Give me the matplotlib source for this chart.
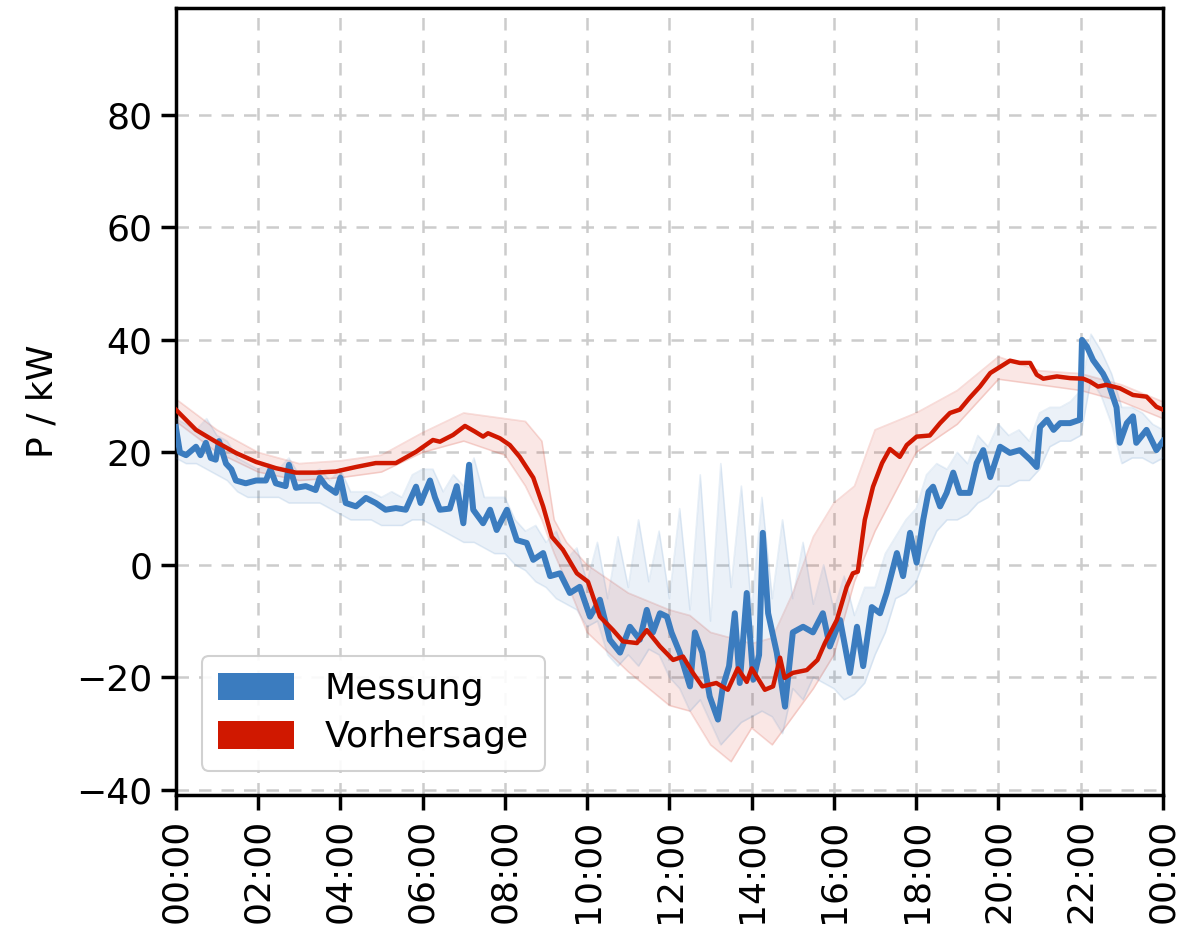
import matplotlib
matplotlib.use('Agg')
import matplotlib.pyplot as plt
from matplotlib.patches import Patch
from matplotlib.ticker import FixedLocator, FuncFormatter

# Messung (Mittelwert), Stunden / kW
mess_h = [0.00, 0.10, 0.25, 0.49, 0.60, 0.73, 0.85, 0.97, 1.05, 1.22, 1.35, 1.46,
          1.70, 1.95, 2.19, 2.30, 2.43, 2.67, 2.75, 2.92, 3.16, 3.40, 3.50, 3.65,
          3.89, 4.00, 4.13, 4.38, 4.62, 4.86, 5.10, 5.35, 5.59, 5.84, 5.95, 6.18,
          6.30, 6.42, 6.66, 6.83, 6.99, 7.13, 7.23, 7.47, 7.64, 7.80, 8.05, 8.29,
          8.53, 8.69, 8.93, 9.10, 9.34, 9.58, 9.82, 10.07, 10.31, 10.55, 10.80, 11.04,
          11.28, 11.45, 11.60, 11.77, 11.94, 12.05, 12.25, 12.50, 12.62, 12.80, 12.98, 13.18,
          13.30, 13.45, 13.59, 13.71, 13.88, 14.04, 14.18, 14.27, 14.40, 14.61, 14.81, 15.00,
          15.25, 15.49, 15.73, 15.90, 16.15, 16.39, 16.56, 16.71, 16.92, 17.12, 17.28, 17.53,
          17.68, 17.85, 18.01, 18.17, 18.30, 18.41, 18.58, 18.74, 18.90, 19.06, 19.30, 19.47,
          19.63, 19.80, 20.04, 20.28, 20.52, 20.77, 20.93, 21.01, 21.18, 21.34, 21.50, 21.74,
          21.98, 22.03, 22.15, 22.30, 22.54, 22.70, 22.87, 22.95, 23.12, 23.27, 23.35, 23.60,
          23.84, 24.00]
mess_kw = [24.5, 20, 19.5, 21, 19.5, 21.7, 19, 18.7, 22, 18, 17, 15,
           14.5, 15, 15, 17, 14.5, 14, 17.8, 13.7, 14, 13.3, 15.5, 14,
           12.8, 15.5, 11, 10.4, 11.9, 11, 9.8, 10.1, 9.8, 13.9, 11, 15,
           12, 9.8, 10, 14, 7.4, 17.8, 9.8, 7.4, 9.8, 6.2, 9.8, 4.4,
           3.9, 0.9, 2.1, -2, -1.5, -5, -3.9, -9.2, -6.2, -13.3, -15.6, -11,
           -13.3, -8, -12, -8.6, -9.2, -12, -15.6, -21.6, -12, -15.6, -23.4, -27.5,
           -21.6, -18, -8.6, -21, -5, -20.4, -16, 5.7, -8.6, -15.6, -25.2, -12,
           -11, -12, -8.6, -14.5, -9.8, -19.2, -11, -18, -7.5, -8.6, -5, 2.1,
           -2, 5.7, 0.4, 8, 13, 13.9, 10.4, 12.8, 16.4, 12.8, 12.8, 18.1,
           20.4, 15.6, 21, 19.9, 20.4, 18.7, 17.4, 24.5, 25.8, 24, 25.2, 25.2,
           25.8, 40, 38.8, 36.4, 34, 31.7, 28, 21.7, 25.2, 26.4, 21.7, 24,
           20.4, 22]

# Streuband der Messung (15-min Raster)
band_h = [i / 4 for i in range(97)]
mess_lo = [19, 18, 18, 17, 16, 15, 13, 12, 12, 12, 12, 11, 11, 11, 11, 10,
           9, 8, 8, 8, 7, 7, 7, 8, 8, 7, 6, 5, 4, 4, 3, 2,
           2, 0, -1, -3, -4, -6, -7, -8, -11, -10, -16, -18, -16, -18, -15, -16,
           -20, -22, -26, -24, -28, -32, -30, -28, -27, -26, -27, -30, -22, -24, -20, -21,
           -22, -24, -23, -21, -16, -12, -6, -5, -3, 2, 6, 8, 8, 9, 11, 12,
           14, 14, 15, 15, 17, 21, 22, 22, 23, 33, 30, 25, 18, 19, 19, 18,
           19]
mess_hi = [26, 25, 24, 26, 23, 22, 19, 18, 17, 18, 17, 19, 16, 16, 17, 15,
           17, 13, 13, 13, 12, 13, 12, 16, 17, 17, 13, 16, 14, 19, 12, 12,
           12, 8, 6, 7, 4, 6, 1, 3, -3, 4, -6, 5, -4, 8, -3, 6,
           -6, 10, -8, 16, -10, 18, -4, 14, -8, 12, -6, 8, -6, 4, -7, 0,
           -8, -2, -9, -4, -4, 2, 5, 8, 10, 16, 18, 17, 20, 18, 23, 21,
           25, 23, 24, 22, 27, 28, 28, 29, 31, 41, 38, 34, 28, 28, 27, 25,
           24]

# Vorhersage
prog_h = [0.00, 0.49, 0.97, 1.46, 1.95, 2.43, 2.92, 3.40, 3.89, 4.38, 4.86, 5.35,
          5.84, 6.25, 6.42, 6.74, 7.03, 7.27, 7.47, 7.59, 7.88, 8.12, 8.36, 8.69,
          8.93, 9.14, 9.41, 9.75, 10.02, 10.31, 10.63, 10.87, 11.21, 11.45, 11.77, 12.09,
          12.33, 12.57, 12.80, 13.14, 13.42, 13.66, 13.88, 14.00, 14.32, 14.52, 14.69, 14.80,
          15.00, 15.34, 15.60, 15.78, 16.07, 16.31, 16.46, 16.58, 16.75, 16.95, 17.17, 17.36,
          17.60, 17.77, 18.01, 18.33, 18.58, 18.82, 19.06, 19.30, 19.55, 19.80, 20.04, 20.28,
          20.52, 20.77, 20.93, 21.09, 21.42, 21.74, 22.06, 22.22, 22.42, 22.62, 22.95, 23.27,
          23.60, 23.84, 24.00]
prog_kw = [27.6, 24, 21.9, 19.9, 18.3, 17.2, 16.4, 16.4, 16.6, 17.4, 18.1, 18.1,
           20.1, 22.2, 21.9, 23.1, 24.7, 23.7, 22.8, 23.4, 22.5, 21.3, 19.2, 15.5,
           10.4, 5, 2.7, -1.5, -3, -9.2, -11.6, -13.6, -13.9, -11.6, -14.5, -16.9,
           -16.3, -19.2, -21.6, -21, -22.2, -18.4, -20.8, -18.4, -22.2, -21.6, -16.5, -20.1,
           -19.2, -18.7, -16.9, -13.9, -9.8, -3.9, -1.5, -1.2, 8, 13.9, 18.1, 20.6,
           19.2, 21.3, 22.8, 23, 25.2, 27, 27.6, 29.7, 31.7, 34.1, 35.2, 36.3,
           35.9, 35.9, 33.8, 33.1, 33.5, 33.2, 33.1, 32.6, 31.7, 32, 31.4, 30.2,
           29.9, 28.1, 27.6]

# Unsicherheitsband der Vorhersage
pband_h = [0, 1, 2, 3, 4, 5, 6, 7, 8, 8.5, 8.9, 9.2, 9.5, 10, 11, 12, 12.5, 13, 13.5,
           14, 14.5, 15, 15.5, 16, 16.5, 17, 18, 19, 20, 21, 22, 23, 24]
prog_lo = [25.5, 20, 16.5, 15, 15.5, 16.5, 20, 22, 19.5, 14, 8, 2, -3, -12, -19, -25, -26,
           -32, -35, -29, -32, -27, -22, -16, -3, 6, 20, 25, 33, 32, 31, 29, 26]
prog_hi = [29.5, 24, 20, 18, 18.5, 19.5, 23.5, 27, 26, 25.5, 22, 8, 4, 0, -5, -8, -9,
           -12, -13, -14, -13, -5, 5, 11, 14, 24, 27, 31, 37, 34.5, 34, 32, 29]

BLUE = '#3b7cbf'
RED = '#d01800'
FS = 26

fig = plt.figure(figsize=(11.8, 9.38), dpi=100)
ax = fig.add_axes([0.149, 0.1525, 0.8366, 0.839])

ax.fill_between(pband_h, prog_lo, prog_hi, color=RED, alpha=0.10, linewidth=0, zorder=2)
ax.plot(pband_h, prog_lo, color=RED, alpha=0.15, linewidth=1.2, zorder=2)
ax.plot(pband_h, prog_hi, color=RED, alpha=0.15, linewidth=1.2, zorder=2)
ax.fill_between(band_h, mess_lo, mess_hi, color=BLUE, alpha=0.10, linewidth=0, zorder=3)
ax.plot(band_h, mess_hi, color=BLUE, alpha=0.12, linewidth=1.2, zorder=3)
ax.plot(band_h, mess_lo, color=BLUE, alpha=0.12, linewidth=1.2, zorder=3)
ax.plot(mess_h, mess_kw, color=BLUE, linewidth=4.3, zorder=4)
ax.plot(prog_h, prog_kw, color=RED, linewidth=3.2, zorder=5)

ax.set_xlim(0, 24)
ax.set_ylim(-40.9, 99)
ax.xaxis.set_major_locator(FixedLocator(list(range(0, 25, 2))))
ax.xaxis.set_major_formatter(FuncFormatter(lambda v, p: f'{int(round(v)) % 24:02d}:00'))
ax.set_yticks([-40, -20, 0, 20, 40, 60, 80])
ax.tick_params(axis='both', labelsize=FS, length=11, width=2.5, pad=6)
ax.tick_params(axis='x', labelrotation=90)
for s in ax.spines.values():
    s.set_linewidth(2.5)

ax.grid(True, linestyle=(0, (5, 4)), color='#cccccc', linewidth=1.8, zorder=0)
ax.set_axisbelow(True)
ax.set_ylabel('P / kW', fontsize=FS, labelpad=12)

handles = [Patch(facecolor=BLUE, label='Messung'), Patch(facecolor=RED, label='Vorhersage')]
leg = ax.legend(handles=handles, loc='lower left', fontsize=FS, handlelength=2.1,
                handleheight=0.8, borderpad=0.45, labelspacing=0.4, handletextpad=0.85,
                bbox_to_anchor=(0.008, 0.008), framealpha=0.9, edgecolor='#cccccc')
leg.get_frame().set_linewidth(1.5)

fig.savefig('out.png', dpi=100)
